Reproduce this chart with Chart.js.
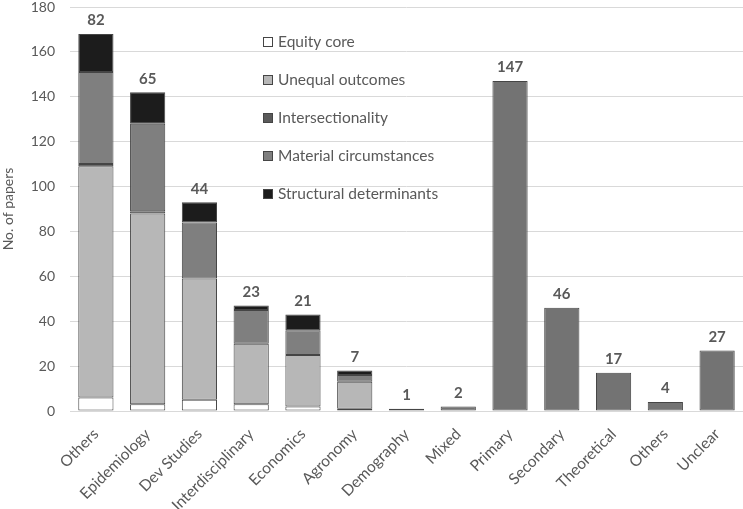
<!DOCTYPE html>
<html>
<head>
<meta charset="utf-8">
<script src="https://cdn.jsdelivr.net/npm/chart.js@4"></script>
<style>
  html, body { margin: 0; padding: 0; background: #fff; }
  #wrap { width: 743px; height: 509px; }
</style>
</head>
<body>
<div id="wrap"><canvas id="chart"></canvas></div>
<script>
var categories = ["Others", "Epidemiology", "Dev Studies", "Interdisciplinary", "Economics", "Agronomy",
    "Demography", "Mixed", "Primary", "Secondary", "Theoretical", "Others", "Unclear"];

var equityCore = [6, 3, 5, 3, 2, 1, 0, 0, 0, 0, 0, 0, 0];
var unequalOutcomes = [103, 85, 54, 27, 23, 12, 1, 0, 0, 0, 0, 0, 0];
var intersectionality = [1, 1, 0, 0, 0, 0, 0, 0, 0, 0, 0, 0, 0];
var materialCircumstances = [41, 39, 25, 15, 11, 3, 0, 0, 0, 0, 0, 0, 0];
var structuralDeterminants = [17, 14, 9, 2, 7, 2, 0, 0, 0, 0, 0, 0, 0];
var otherCounts = [0, 0, 0, 0, 0, 0, 0, 2, 147, 46, 17, 4, 27];

var paperCounts = [82, 65, 44, 23, 21, 7, 1, 2, 147, 46, 17, 4, 27];

var yTicks = [0, 20, 40, 60, 80, 100, 120, 140, 160, 180];

var textColor = '#595959';
var edge = '#454545';

function makeDataset(label, data, color) {
    return {
        label: label,
        // empty segments are left out so they draw no outline
        data: data.map(function (v) { return v === 0 ? null : v; }),
        backgroundColor: color,
        borderColor: edge,
        borderWidth: 1,
        borderSkipped: false,
        barPercentage: 0.68,
        categoryPercentage: 1
    };
}

// legend drawn inside the plot area, as in the original
var innerLegend = {
    id: 'innerLegend',
    afterDraw: function (chart) {
        var ctx = chart.ctx;
        var area = chart.chartArea;
        var x = area.left + 193;
        ctx.save();
        ctx.font = '15.5px Lato';
        ctx.textBaseline = 'middle';
        for (var i = 0; i < 5; i++) {
            var ds = chart.data.datasets[i];
            var y = area.top + 35 + i * 38;
            ctx.fillStyle = ds.backgroundColor;
            ctx.fillRect(x, y - 5, 10, 10);
            ctx.strokeStyle = edge;
            ctx.lineWidth = 1;
            ctx.strokeRect(x + 0.5, y - 4.5, 9, 9);
            ctx.fillStyle = textColor;
            ctx.fillText(ds.label, x + 15, y);
        }
        ctx.restore();
    }
};

// paper counts written above each bar
var countLabels = {
    id: 'countLabels',
    afterDatasetsDraw: function (chart) {
        var ctx = chart.ctx;
        var yScale = chart.scales.y;
        var xScale = chart.scales.x;
        ctx.save();
        ctx.font = 'bold 15px Lato';
        ctx.fillStyle = textColor;
        ctx.textAlign = 'center';
        ctx.textBaseline = 'bottom';
        for (var i = 0; i < categories.length; i++) {
            var sum = 0;
            chart.data.datasets.forEach(function (ds) { sum += ds.data[i] || 0; });
            ctx.fillText(paperCounts[i], xScale.getPixelForValue(i), yScale.getPixelForValue(sum) - 6);
        }
        ctx.restore();
    }
};

function makeChart() {
    var canvas = document.getElementById("chart");

    var chartData = {
        labels: categories,
        datasets: [
            makeDataset("Equity core", equityCore, '#ffffff'),
            makeDataset("Unequal outcomes", unequalOutcomes, '#b7b7b7'),
            makeDataset("Intersectionality", intersectionality, '#5a5a5a'),
            makeDataset("Material circumstances", materialCircumstances, '#7f7f7f'),
            makeDataset("Structural determinants", structuralDeterminants, '#1c1c1c'),
            makeDataset("Other", otherCounts, '#737373')
        ]
    };

    new Chart(canvas, {
        type: 'bar',
        data: chartData,
        plugins: [innerLegend, countLabels],
        options: {
            responsive: true,
            maintainAspectRatio: false,
            animation: false,
            layout: { padding: 0 },
            plugins: {
                legend: { display: false },
                tooltip: { enabled: false }
            },
            scales: {
                x: {
                    stacked: true,
                    grid: { display: false },
                    border: { color: '#d9d9d9' },
                    ticks: {
                        color: textColor,
                        font: { family: 'Lato', size: 15.5 },
                        minRotation: 45,
                        maxRotation: 45,
                        padding: 6,
                        autoSkip: false
                    },
                    afterFit: function (scale) { scale.height = 98; }
                },
                y: {
                    stacked: true,
                    min: 0,
                    max: 180,
                    afterBuildTicks: function (scale) {
                        scale.ticks = yTicks.map(function (v) { return { value: v }; });
                    },
                    grid: { color: '#d9d9d9', drawTicks: false },
                    border: { display: false },
                    ticks: {
                        color: textColor,
                        font: { family: 'Lato', size: 14 },
                        padding: 15
                    },
                    title: {
                        display: true,
                        text: 'No. of papers',
                        color: textColor,
                        font: { family: 'Lato', size: 14 },
                        padding: { top: 0, bottom: 0 }
                    },
                    afterFit: function (scale) {
                        scale.width = 70;
                        scale.paddingTop = 7;
                        scale.paddingBottom = 7;
                    }
                }
            }
        }
    });
}

document.addEventListener('DOMContentLoaded', makeChart);
</script>
</body>
</html>
